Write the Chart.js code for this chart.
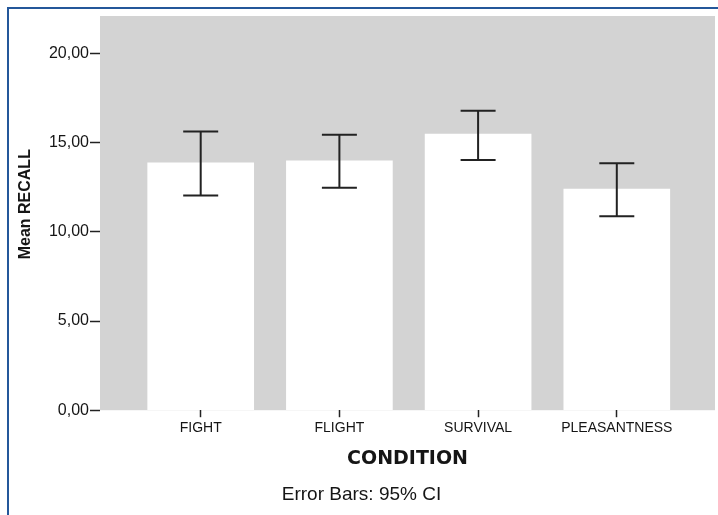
<!DOCTYPE html>
<html>
<head>
<meta charset="utf-8">
<script src="https://cdn.jsdelivr.net/npm/chart.js@4.4.0/dist/chart.umd.min.js"></script>
<style>
  html, body { margin: 0; padding: 0; background: #fff; overflow: hidden; }
  #frame {
    position: absolute; left: 7px; top: 7px; width: 800px; height: 600px;
    border-top: 2px solid #24579a; border-left: 2px solid #24579a;
  }
  #chart { position: absolute; left: 0; top: 0; }
</style>
</head>
<body>
<div id="frame"></div>
<canvas id="chart" width="718" height="515"></canvas>
<script>
// values
const conditions = ['FIGHT', 'FLIGHT', 'SURVIVAL', 'PLEASANTNESS'];
const meanRecall = [13.87, 13.98, 15.48, 12.39];
const ciLower = [12.04, 12.47, 14.02, 10.88];
const ciUpper = [15.63, 15.44, 16.79, 13.84];
const yTicks = [0, 5, 10, 15, 20];

const textColor = '#151515';
const sans = "'Liberation Sans', Arial, sans-serif";

// grey plot background, like the SPSS chart
const plotBackground = {
  id: 'plotBackground',
  beforeDraw(chart) {
    const { ctx, chartArea } = chart;
    ctx.save();
    ctx.fillStyle = '#d3d3d3';
    ctx.fillRect(chartArea.left, chartArea.top, chartArea.right - chartArea.left, chartArea.bottom - chartArea.top);
    ctx.restore();
  }
};

// 95% CI whiskers on top of the bars
const errorBars = {
  id: 'errorBars',
  afterDatasetsDraw(chart) {
    const { ctx } = chart;
    const xs = chart.scales.x;
    const ys = chart.scales.y;
    ctx.save();
    ctx.strokeStyle = '#222';
    ctx.lineWidth = 2;
    conditions.forEach((c, i) => {
      const x = xs.getPixelForValue(i + 1);
      const top = ys.getPixelForValue(ciUpper[i]);
      const bot = ys.getPixelForValue(ciLower[i]);
      const half = 17.5;
      ctx.beginPath();
      ctx.moveTo(x, top); ctx.lineTo(x, bot);
      ctx.moveTo(x - half, top); ctx.lineTo(x + half, top);
      ctx.moveTo(x - half, bot); ctx.lineTo(x + half, bot);
      ctx.stroke();
    });
    ctx.restore();
  }
};

new Chart(document.getElementById('chart'), {
  type: 'bar',
  data: {
    datasets: [{
      label: 'Mean RECALL',
      data: meanRecall.map((v, i) => ({ x: i + 1, y: v })),
      backgroundColor: '#ffffff',
      borderWidth: 0,
      barThickness: 106
    }]
  },
  options: {
    responsive: false,
    animation: false,
    devicePixelRatio: 1,
    layout: { padding: { left: 8, right: 3, top: 16, bottom: 0 } },
    plugins: {
      legend: { display: false },
      tooltip: { enabled: false },
      title: {
        display: true,
        position: 'bottom',
        text: 'Error Bars: 95% CI',
        color: textColor,
        font: { family: sans, size: 19, weight: 'normal' },
        padding: { top: 9, bottom: 9 }
      }
    },
    scales: {
      x: {
        type: 'linear',
        min: 0.274,
        max: 4.708,
        offset: false,
        afterBuildTicks: (scale) => {
          scale.ticks = conditions.map((c, i) => ({ value: i + 1 }));
        },
        afterFit: (scale) => { scale.height = 64; },
        ticks: {
          autoSkip: false,
          maxRotation: 0,
          padding: 3,
          color: textColor,
          font: { family: sans, size: 14 },
          callback: (v) => conditions[v - 1]
        },
        grid: { drawOnChartArea: false, offset: false, tickLength: 7, tickColor: '#222', tickWidth: 1.5 },
        border: { display: false },
        title: {
          display: true,
          text: 'CONDITION',
          color: textColor,
          font: { family: "'DejaVu Sans', sans-serif", size: 19, weight: 'bold' },
          padding: { top: 0, bottom: 4 }
        }
      },
      y: {
        min: 0,
        max: 22.1,
        afterBuildTicks: (scale) => {
          scale.ticks = yTicks.map(v => ({ value: v }));
        },
        afterFit: (scale) => { scale.width = 92; },
        ticks: {
          padding: 1,
          color: textColor,
          font: { family: sans, size: 16 },
          callback: (v) => v.toFixed(2).replace('.', ',')
        },
        grid: { drawOnChartArea: false, tickLength: 10, tickColor: '#222', tickWidth: 1.5 },
        border: { display: false },
        title: {
          display: true,
          // leading spaces nudge the centred label up a little, as in the original
          text: '    Mean RECALL',
          color: textColor,
          font: { family: sans, size: 16, weight: 'bold' },
          padding: { top: 8, bottom: 0 }
        }
      }
    }
  },
  plugins: [plotBackground, errorBars]
});
</script>
</body>
</html>
